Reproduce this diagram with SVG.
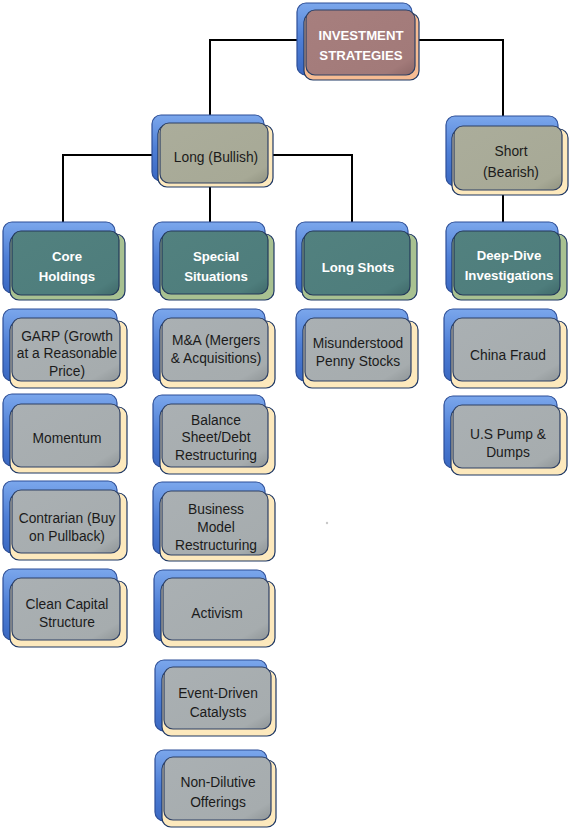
<svg xmlns="http://www.w3.org/2000/svg" width="569" height="831" viewBox="0 0 569 831">
<defs>
<linearGradient id="gBlue" x1="0" y1="0" x2="0" y2="1"><stop offset="0" stop-color="#7ba7ec"/><stop offset="0.5" stop-color="#4f7fd6"/><stop offset="1" stop-color="#3a68c2"/></linearGradient>
<linearGradient id="gGrey" x1="0" y1="0" x2="1" y2="1"><stop offset="0" stop-color="#aab0b3"/><stop offset="0.85" stop-color="#a6acae"/><stop offset="1" stop-color="#8f9597"/></linearGradient>
<linearGradient id="gTeal" x1="0" y1="0" x2="1" y2="1"><stop offset="0" stop-color="#52817f"/><stop offset="0.85" stop-color="#4e7d7c"/><stop offset="1" stop-color="#406a6a"/></linearGradient>
<linearGradient id="gOlive" x1="0" y1="0" x2="1" y2="1"><stop offset="0" stop-color="#abad9b"/><stop offset="0.85" stop-color="#a7a996"/><stop offset="1" stop-color="#919381"/></linearGradient>
<linearGradient id="gMauve" x1="0" y1="0" x2="1" y2="1"><stop offset="0" stop-color="#a77f7e"/><stop offset="0.85" stop-color="#a27a79"/><stop offset="1" stop-color="#8c6767"/></linearGradient>
</defs>
<style>
.blue{fill:url(#gBlue);stroke:#2d4f98;stroke-width:1.2}
.yel{fill:#fde9bd;stroke:#1f3864;stroke-width:1.2}
.grn{fill:#a8c191;stroke:#1f3864;stroke-width:1.2}
.pch{fill:#f6bc93;stroke:#1f3864;stroke-width:1.2}
.fg{fill:url(#gGrey);stroke:#2e4064;stroke-width:1.2}
.ft{fill:url(#gTeal);stroke:#24395a;stroke-width:1.2}
.fo{fill:url(#gOlive);stroke:#2e4064;stroke-width:1.2}
.fm{fill:url(#gMauve);stroke:#2e4064;stroke-width:1.2}
text{font-family:"Liberation Sans",Arial,sans-serif;font-size:13.8px;text-anchor:middle}
.d{fill:#1b1b1b}
.w{fill:#ffffff;font-weight:bold;font-size:13.2px}
.conn{stroke:#000;stroke-width:2;fill:none}
</style>

<g id="connectors">
<polyline class="conn" points="306,40 210,40 210,116"/>
<polyline class="conn" points="416,40 503,40 503,117"/>
<polyline class="conn" points="160,155 63,155 63,224"/>
<polyline class="conn" points="268,155 352,155 352,224"/>
<line class="conn" x1="210" y1="186" x2="210" y2="224"/>
<line class="conn" x1="503" y1="192" x2="503" y2="224"/>
</g>

<g id="investment-strategies">
<rect class="blue" x="297" y="3" width="115" height="72" rx="9"/>
<rect class="pch" x="304" y="13" width="115" height="67" rx="9"/>
<rect class="fm" x="306" y="10" width="109" height="65" rx="9"/>
<text class="w" x="361" y="40">INVESTMENT</text>
<text class="w" x="361" y="60">STRATEGIES</text>
</g>

<g id="long">
<rect class="blue" x="152" y="115" width="112" height="66" rx="9"/>
<rect class="yel" x="158" y="125" width="115" height="62" rx="9"/>
<rect class="fo" x="160" y="123" width="108" height="60" rx="9"/>
<text class="d" x="216" y="162">Long (Bullish)</text>
</g>

<g id="short">
<rect class="blue" x="446" y="116" width="112" height="70" rx="9"/>
<rect class="yel" x="452" y="129" width="116" height="66" rx="9"/>
<rect class="fo" x="454" y="126" width="108" height="64" rx="9"/>
<text class="d" x="511" y="156">Short</text>
<text class="d" x="511" y="177">(Bearish)</text>
</g>

<g id="core-holdings">
<rect class="blue" x="3" y="222" width="112" height="71" rx="9"/>
<rect class="grn" x="10" y="234" width="115" height="66" rx="9"/>
<rect class="ft" x="12" y="231" width="107" height="64" rx="9"/>
<text class="w" x="67" y="261">Core</text>
<text class="w" x="67" y="281">Holdings</text>
</g>

<g id="special-situations">
<rect class="blue" x="153" y="222" width="112" height="71" rx="9"/>
<rect class="grn" x="160" y="234" width="114" height="66" rx="9"/>
<rect class="ft" x="162" y="231" width="106" height="63" rx="9"/>
<text class="w" x="216" y="261">Special</text>
<text class="w" x="216" y="281">Situations</text>
</g>

<g id="long-shots">
<rect class="blue" x="296" y="222" width="112" height="71" rx="9"/>
<rect class="grn" x="302" y="234" width="115" height="66" rx="9"/>
<rect class="ft" x="304" y="231" width="106" height="64" rx="9"/>
<text class="w" x="358" y="272">Long Shots</text>
</g>

<g id="deep-dive">
<rect class="blue" x="446" y="222" width="112" height="71" rx="9"/>
<rect class="grn" x="452" y="234" width="115" height="66" rx="9"/>
<rect class="ft" x="454" y="231" width="106" height="64" rx="9"/>
<text class="w" x="509" y="260">Deep-Dive</text>
<text class="w" x="509" y="280">Investigations</text>
</g>

<g id="garp">
<rect class="blue" x="3" y="309" width="114" height="72" rx="9"/>
<rect class="yel" x="10" y="321" width="117" height="67" rx="9"/>
<rect class="fg" x="12" y="318" width="108" height="63" rx="9"/>
<text class="d" x="67" y="341">GARP (Growth</text>
<text class="d" x="67" y="358">at a Reasonable</text>
<text class="d" x="67" y="376">Price)</text>
</g>

<g id="momentum">
<rect class="blue" x="3" y="394" width="114" height="72" rx="9"/>
<rect class="yel" x="10" y="407" width="117" height="66" rx="9"/>
<rect class="fg" x="12" y="404" width="108" height="63" rx="9"/>
<text class="d" x="67" y="443">Momentum</text>
</g>

<g id="contrarian">
<rect class="blue" x="3" y="481" width="114" height="72" rx="9"/>
<rect class="yel" x="10" y="493" width="117" height="67" rx="9"/>
<rect class="fg" x="12" y="490" width="108" height="63" rx="9"/>
<text class="d" x="67" y="523">Contrarian (Buy</text>
<text class="d" x="67" y="541">on Pullback)</text>
</g>

<g id="clean-capital">
<rect class="blue" x="3" y="569" width="114" height="71" rx="9"/>
<rect class="yel" x="10" y="581" width="117" height="66" rx="9"/>
<rect class="fg" x="12" y="578" width="108" height="62" rx="9"/>
<text class="d" x="67" y="609">Clean Capital</text>
<text class="d" x="67" y="627">Structure</text>
</g>

<g id="m-and-a">
<rect class="blue" x="153" y="309" width="112" height="72" rx="9"/>
<rect class="yel" x="160" y="321" width="115" height="67" rx="9"/>
<rect class="fg" x="162" y="318" width="106" height="63" rx="9"/>
<text class="d" x="216" y="345">M&amp;A (Mergers</text>
<text class="d" x="216" y="363">&amp; Acquisitions)</text>
</g>

<g id="balance-sheet">
<rect class="blue" x="153" y="395" width="112" height="72" rx="9"/>
<rect class="yel" x="160" y="407" width="115" height="67" rx="9"/>
<rect class="fg" x="162" y="404" width="106" height="63" rx="9"/>
<text class="d" x="216" y="425">Balance</text>
<text class="d" x="216" y="442">Sheet/Debt</text>
<text class="d" x="216" y="460">Restructuring</text>
</g>

<g id="business-model">
<rect class="blue" x="153" y="482" width="112" height="72" rx="9"/>
<rect class="yel" x="160" y="494" width="115" height="67" rx="9"/>
<rect class="fg" x="162" y="491" width="106" height="64" rx="9"/>
<text class="d" x="216" y="514">Business</text>
<text class="d" x="216" y="532">Model</text>
<text class="d" x="216" y="550">Restructuring</text>
</g>

<g id="activism">
<rect class="blue" x="154" y="570" width="112" height="71" rx="9"/>
<rect class="yel" x="161" y="581" width="114" height="66" rx="9"/>
<rect class="fg" x="163" y="578" width="106" height="62" rx="9"/>
<text class="d" x="217" y="618">Activism</text>
</g>

<g id="event-driven">
<rect class="blue" x="155" y="660" width="112" height="71" rx="9"/>
<rect class="yel" x="162" y="670" width="114" height="66" rx="9"/>
<rect class="fg" x="164" y="667" width="107" height="62" rx="9"/>
<text class="d" x="218" y="698">Event-Driven</text>
<text class="d" x="218" y="717">Catalysts</text>
</g>

<g id="non-dilutive">
<rect class="blue" x="155" y="750" width="112" height="71" rx="9"/>
<rect class="yel" x="162" y="760" width="114" height="67" rx="9"/>
<rect class="fg" x="164" y="757" width="107" height="63" rx="9"/>
<text class="d" x="218" y="787">Non-Dilutive</text>
<text class="d" x="218" y="807">Offerings</text>
</g>

<g id="misunderstood">
<rect class="blue" x="296" y="309" width="112" height="72" rx="9"/>
<rect class="yel" x="303" y="321" width="115" height="67" rx="9"/>
<rect class="fg" x="305" y="318" width="106" height="63" rx="9"/>
<text class="d" x="358" y="348">Misunderstood</text>
<text class="d" x="358" y="366">Penny Stocks</text>
</g>

<g id="china-fraud">
<rect class="blue" x="444" y="309" width="113" height="72" rx="9"/>
<rect class="yel" x="451" y="321" width="116" height="67" rx="9"/>
<rect class="fg" x="453" y="318" width="107" height="63" rx="9"/>
<text class="d" x="508" y="360">China Fraud</text>
</g>

<g id="us-pump">
<rect class="blue" x="444" y="396" width="113" height="72" rx="9"/>
<rect class="yel" x="451" y="408" width="116" height="67" rx="9"/>
<rect class="fg" x="453" y="405" width="107" height="63" rx="9"/>
<text class="d" x="508" y="439">U.S Pump &amp;</text>
<text class="d" x="508" y="457">Dumps</text>
</g>

<circle cx="327" cy="523" r="1.2" fill="#c8c8c8"/>
</svg>
